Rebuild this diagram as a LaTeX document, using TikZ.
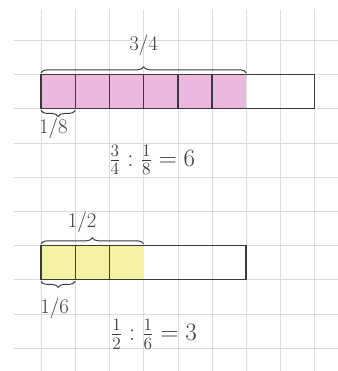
\documentclass[tikz,border=0pt]{standalone}
\usepackage{tikz}
\usetikzlibrary{positioning,decorations.pathreplacing,calc}
\definecolor{gridgray}{HTML}{DCDCDC}
\definecolor{barpinkfill}{HTML}{EDB8E0}
\definecolor{baryellowfill}{HTML}{F4F2A0}
\definecolor{baredge}{HTML}{3A3A3A}

\begin{document}
\begin{tikzpicture}[
  gridline/.style={draw=gridgray, line width=0.5pt},
  bar/.style={draw=baredge, line width=1.2pt},
  cut/.style={draw=baredge, line width=1.2pt},
  brace/.style={decorate, decoration={brace, amplitude=5pt}, draw=baredge, line width=0.8pt},
  partlabel/.style={font=\LARGE, text=baredge, inner sep=1pt},
  sumlabel/.style={font=\huge, text=baredge, inner sep=1pt}
]
  \useasboundingbox (-1.2,-0.67) rectangle (8.68,10.18);
  % squared paper
  \foreach \x in {0,...,8}
    \draw[gridline] (\x,-0.67) -- (\x,9.88);
  \foreach \y in {0,...,9}
    \draw[gridline] (-0.8,\y) -- (8.68,\y);

  % 3/4 : 1/8
  \coordinate (topL) at (0,8);
  \coordinate (topM) at (6,8);
  \coordinate (topB) at (0,7);
  \coordinate (topC) at (1,7);
  \fill[barpinkfill] (0,7) rectangle (6,8);
  \foreach \i in {1,...,5}
    \draw[cut] (\i,7) -- (\i,8);
  \draw[bar] (0,7) rectangle (8,8);
  \draw[brace] ($(topL)+(0,0.05)$) -- ($(topM)+(0,0.05)$);
  \draw[brace] ($(topC)-(0,0.05)$) -- ($(topB)-(0,0.05)$);
  \node[partlabel] (topwhole) at (3,8.86) {3/4};
  \node[partlabel] (toppart) at (0.36,6.42) {1/8};
  \node[sumlabel] (topsum) at (3.25,5.5) {$\frac{3}{4} : \frac{1}{8} = 6$};

  % 1/2 : 1/6
  \coordinate (botL) at (0,3);
  \coordinate (botM) at (3,3);
  \coordinate (botB) at (0,2);
  \coordinate (botC) at (1,2);
  \fill[baryellowfill] (0,2) rectangle (3,3);
  \foreach \i in {1,2}
    \draw[cut] (\i,2) -- (\i,3);
  \draw[bar] (0,2) rectangle (6,3);
  \draw[brace] ($(botL)+(0,0.05)$) -- ($(botM)+(0,0.05)$);
  \draw[brace] ($(botC)-(0,0.05)$) -- ($(botB)-(0,0.05)$);
  \node[partlabel] (botwhole) at (1.2,3.68) {1/2};
  \node[partlabel] (botpart) at (0.4,1.17) {1/6};
  \node[sumlabel] (botsum) at (3.3,0.4) {$\frac{1}{2} : \frac{1}{6} = 3$};
\end{tikzpicture}
\end{document}
